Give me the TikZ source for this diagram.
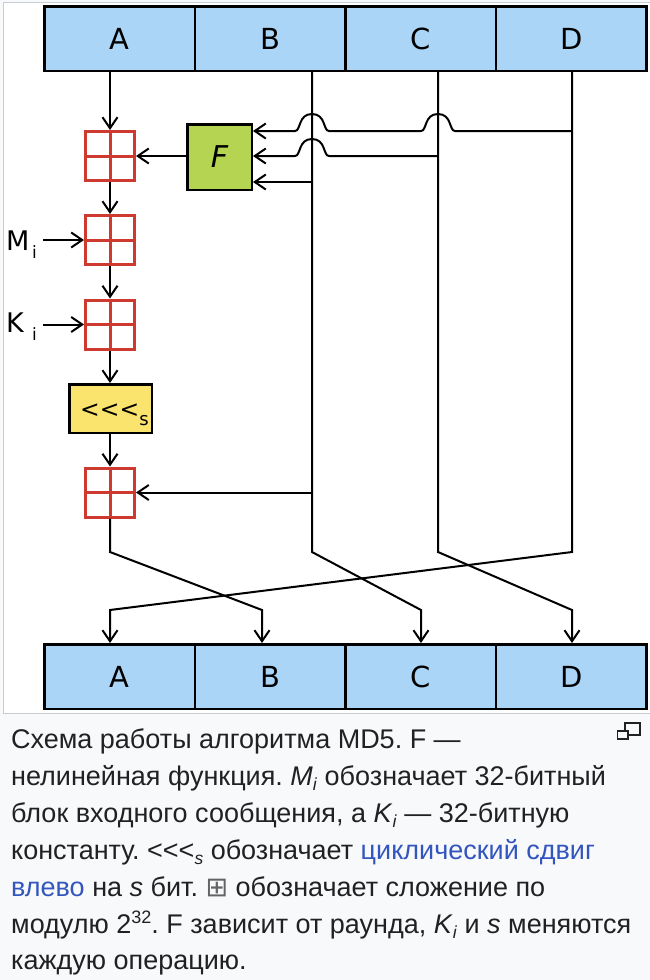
\documentclass[tikz,border=0pt]{standalone}
\usepackage{fontspec}
\setmainfont{Liberation Sans}
\newfontfamily\dejavu{DejaVu Sans}
\usetikzlibrary{arrows.meta}
\frenchspacing

\definecolor{regblue}{RGB}{170,213,247}
\definecolor{fgreen}{RGB}{181,212,82}
\definecolor{rotyellow}{RGB}{250,228,110}
\definecolor{addred}{RGB}{207,58,48}
\definecolor{capbg}{RGB}{248,249,250}
\definecolor{framegray}{RGB}{200,204,209}
\definecolor{captext}{RGB}{32,33,34}
\definecolor{linkblue}{RGB}{51,86,190}
\definecolor{symgray}{RGB}{100,100,100}

\newcommand\capsub[1]{\raisebox{-5pt}{\fontsize{17.5}{17.5}\selectfont #1}}
\newcommand\capsup[1]{\raisebox{10pt}{\fontsize{18}{18}\selectfont #1}}

\tikzset{
  reg/.style={draw=black, line width=2.5pt, fill=regblue, minimum width=150.6pt,
    minimum height=64.5pt, inner sep=0pt, font=\dejavu\fontsize{29}{29}\selectfont},
  adder/.style={draw=addred, fill=white, line width=3pt, minimum size=49pt, inner sep=0pt,
    path picture={\draw[addred, line width=3pt]
      (path picture bounding box.north) -- (path picture bounding box.south)
      (path picture bounding box.west) -- (path picture bounding box.east);}},
  fbox/.style={draw=black, line width=2.5pt, fill=fgreen, minimum width=64.5pt,
    minimum height=65.5pt, inner sep=0pt, font=\dejavu\itshape\fontsize{30}{30}\selectfont},
  rotbox/.style={draw=black, line width=2.5pt, fill=rotyellow, minimum width=82.5pt,
    minimum height=48.5pt, inner sep=0pt},
  conn/.style={draw=black, line width=2pt},
  arr/.style={conn, -{Straight Barb[length=11pt,width=15pt]}},
  inlabel/.style={anchor=base west, inner sep=0pt, font=\dejavu\fontsize{27}{27}\selectfont},
  captionline/.style={anchor=base west, inner sep=0pt, text=captext, font=\fontsize{27}{30}\selectfont}
}

\begin{document}
\begin{tikzpicture}[x=1pt,y=-1pt]
\useasboundingbox (0,0) rectangle (650,980);
\fill[capbg] (0,0) rectangle (650,980);
\filldraw[fill=white, draw=framegray, line width=1pt] (3.5,2.5) rectangle (652,713.5);

% registers
\node[reg] (tA) at (119.6,38.5) {A};
\node[reg] (tB) at (270.2,38.5) {B};
\node[reg] (tC) at (420.8,38.5) {C};
\node[reg] (tD) at (571.4,38.5) {D};
\node[reg] (bA) at (119.6,676.5) {A};
\node[reg] (bB) at (270.2,676.5) {B};
\node[reg] (bC) at (420.8,676.5) {C};
\node[reg] (bD) at (571.4,676.5) {D};

% operations
\node[adder] (add1) at (110,156) {};
\node[adder] (add2) at (110,240) {};
\node[adder] (add3) at (110,324.5) {};
\node[adder] (add4) at (110,492.5) {};
\node[fbox] (Fbox) at (219.5,157) {F};
\node[rotbox] (rot) at (110.5,408.5) {};
\node[anchor=base west, inner sep=0pt] (rottxt) at (80,417)
  {{\dejavu\fontsize{23.5}{23.5}\selectfont <{}<{}<}\raisebox{-8pt}{\dejavu\fontsize{18}{18}\selectfont s}};

\node[inlabel] (Mi) at (6,250) {\makebox[26pt][l]{M}\raisebox{-8pt}{\fontsize{17}{17}\selectfont i}};
\node[inlabel] (Ki) at (6,332) {\makebox[26pt][l]{K}\raisebox{-8pt}{\fontsize{17}{17}\selectfont i}};

% named points
\coordinate (jD1) at (572,131);
\coordinate (jC1) at (438,156);
\coordinate (jB1) at (312,182);
\coordinate (kA) at (110,552);
\coordinate (kB) at (312,552);
\coordinate (kC) at (438,552);
\coordinate (kD) at (572,552);
\coordinate (lA) at (262,610);
\coordinate (lB) at (421,610);
\coordinate (lC) at (572,610);
\coordinate (lD) at (110,610);
\coordinate (mIn) at (43,240);
\coordinate (kIn) at (43,324.5);

% main chain
\draw[arr] (add1.north |- tA.south) -- (add1.north);
\draw[arr] (Fbox.west |- add1.east) -- (add1.east);
\draw[arr] (add1.south) -- (add2.north);
\draw[arr] (add2.south) -- (add3.north);
\draw[arr] (add3.south) -- (rot.north -| add3.south);
\draw[arr] (rot.south -| add4.north) -- (add4.north);
\draw[arr] (mIn) -- (add2.west);
\draw[arr] (kIn) -- (add3.west);

% inputs of F
\draw[arr] (jD1) -- (455,131) .. controls (449,131) and (452,114) .. (438,114)
  .. controls (424,114) and (427,131) .. (421,131) -- (329,131)
  .. controls (323,131) and (326,114) .. (312,114)
  .. controls (298,114) and (301,131) .. (295,131) -- (Fbox.east |- jD1);
\draw[arr] (jC1) -- (329,156) .. controls (323,156) and (326,139) .. (312,139)
  .. controls (298,139) and (301,156) .. (295,156) -- (Fbox.east |- jC1);
\draw[arr] (jB1) -- (Fbox.east |- jB1);

% B into last adder
\draw[arr] (kB |- add4.east) -- (add4.east);

% register lines and permutation
\draw[arr] (add4.south) -- (kA) -- (lA) -- (lA |- bB.north);
\draw[arr] (kB |- tB.south) -- (kB) -- (lB) -- (lB |- bC.north);
\draw[arr] (kC |- tC.south) -- (kC) -- (lC) -- (lC |- bD.north);
\draw[arr] (kD |- tD.south) -- (kD) -- (lD) -- (lD |- bA.north);

% caption
\node[captionline] (c1) at (11,748.5) {Схема работы алгоритма MD5. F —};
\node[captionline] (c2) at (11,785.3) {нелинейная функция. \textit{M}\capsub{\textit{i}} обозначает 32-битный};
\node[captionline] (c3) at (11,822) {блок входного сообщения, а \textit{K}\capsub{\textit{i}} — 32-битную};
\node[captionline] (c4) at (11,859) {константу. <{}<{}<\capsub{\textit{s}} обозначает \textcolor{linkblue}{циклический сдвиг}};
\node[captionline] (c5) at (11,896) {\textcolor{linkblue}{влево} на \textit{s} бит. {\dejavu\color{symgray}⊞} обозначает сложение по};
\node[captionline] (c6) at (11,933) {модулю 2\capsup{32}. F зависит от раунда, \textit{K}\capsub{\textit{i}} и \textit{s} меняются};
\node[captionline] (c7) at (11,969.5) {каждую операцию.};

% enlarge icon
\draw[captext, line width=1.3pt] (625,723) rectangle (640,735);
\filldraw[fill=capbg, draw=captext, line width=1.3pt] (617.5,731) rectangle (628,739);
\end{tikzpicture}
\end{document}
